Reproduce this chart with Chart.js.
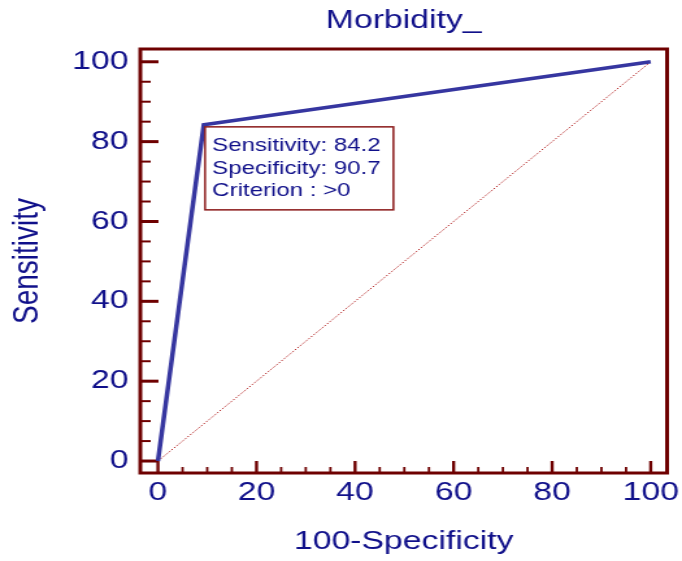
<!DOCTYPE html>
<html>
<head>
<meta charset="utf-8">
<title>Morbidity_ ROC curve</title>
<script src="https://cdn.jsdelivr.net/npm/chart.js@4.4.0/dist/chart.umd.min.js"></script>
<style>
  html, body { margin: 0; padding: 0; background: #ffffff; overflow: hidden; }
</style>
</head>
<body>
<!-- drawn at 525px wide and shown at 682px, the reference is stretched sideways -->
<canvas id="rocChart" width="525" height="561" style="display:block;width:682px;height:561px"></canvas>
<script>
// ROC data (100-Specificity vs Sensitivity)
const rocX = [0, 9.3, 100];
const rocY = [0, 84.2, 100];
const diagonalX = [0, 100];
const diagonalY = [0, 100];

// Axis ticks
const tickValues = [0, 20, 40, 60, 80, 100];
const minorTickValues = [0, 5, 10, 15, 20, 25, 30, 35, 40, 45, 50, 55, 60, 65, 70, 75, 80, 85, 90, 95, 100];

// Cut-off point shown in the box
const cutoffSensitivity = 84.2;
const cutoffSpecificity = 90.7;
const cutoffCriterion = ">0";

const textColor = "#10108a";
const frameColor = "#6e0000";

Chart.defaults.font.family = "'Liberation Sans', Arial, Helvetica, sans-serif";

function toPoints(xs, ys) {
  return xs.map((v, i) => ({ x: v, y: ys[i] }));
}

// Frame with inward tick marks
const frameAndTicks = {
  id: "frameAndTicks",
  beforeDatasetsDraw(chart) {
    const { ctx, chartArea: a, scales } = chart;
    ctx.save();
    ctx.strokeStyle = frameColor;
    ctx.lineCap = "butt";
    minorTickValues.forEach((v) => {
      const major = tickValues.includes(v);
      const px = scales.x.getPixelForValue(v);
      ctx.lineWidth = major ? 2.4 : 1.8;
      ctx.beginPath();
      ctx.moveTo(px, a.bottom);
      ctx.lineTo(px, a.bottom - (major ? 12 : 6));
      ctx.stroke();

      const py = scales.y.getPixelForValue(v);
      ctx.lineWidth = major ? 3 : 2;
      ctx.beginPath();
      ctx.moveTo(a.left, py);
      ctx.lineTo(a.left + (major ? 14 : 8), py);
      ctx.stroke();
    });
    ctx.lineWidth = 3;
    ctx.strokeRect(a.left, a.top, a.right - a.left, a.bottom - a.top);
    ctx.restore();
  },
};

// Box with the cut-off statistics
const cutoffBox = {
  id: "cutoffBox",
  afterDatasetsDraw(chart) {
    const { ctx, scales } = chart;
    const px = scales.x.getPixelForValue(100 - cutoffSpecificity);
    const py = scales.y.getPixelForValue(cutoffSensitivity);
    const bx = px + 1;
    const by = py + 2;
    ctx.save();
    ctx.fillStyle = "#ffffff";
    ctx.fillRect(bx, by, 145, 83);
    ctx.strokeStyle = "#8b1a1a";
    ctx.lineWidth = 1.5;
    ctx.strokeRect(bx, by, 145, 83);
    ctx.fillStyle = textColor;
    ctx.font = "18.5px 'Liberation Sans', Arial, sans-serif";
    ctx.textBaseline = "alphabetic";
    ctx.fillText("Sensitivity: " + cutoffSensitivity.toFixed(1), bx + 5.5, by + 24);
    ctx.fillText("Specificity: " + cutoffSpecificity.toFixed(1), bx + 5.5, by + 47);
    ctx.fillText("Criterion : " + cutoffCriterion, bx + 5.5, by + 69.5);
    ctx.restore();
  },
};

const ctx = document.getElementById("rocChart").getContext("2d");

new Chart(ctx, {
  type: "scatter",
  data: {
    datasets: [
      {
        label: "Reference line",
        data: toPoints(diagonalX, diagonalY),
        showLine: true,
        borderColor: "#b22222",
        borderWidth: 1,
        borderDash: [1.5, 1.5],
        pointRadius: 0,
        order: 2,
      },
      {
        label: "ROC curve",
        data: toPoints(rocX, rocY),
        showLine: true,
        borderColor: "#3636a0",
        borderWidth: 3.5,
        pointRadius: 0,
        tension: 0,
        order: 1,
      },
    ],
  },
  options: {
    responsive: false,
    devicePixelRatio: 1,
    animation: false,
    layout: {
      padding: { left: 0, right: 11.5, top: 0, bottom: 0 },
    },
    plugins: {
      legend: { display: false },
      tooltip: { enabled: false },
      title: {
        display: true,
        text: "Morbidity_",
        color: textColor,
        fullSize: false,
        font: { size: 26, weight: "normal" },
        padding: { top: 5.4, bottom: 12.4 },
      },
    },
    scales: {
      x: {
        type: "linear",
        min: -3.58,
        max: 103.32,
        grid: { display: false, drawTicks: false },
        border: { display: false },
        afterBuildTicks: (scale) => {
          scale.ticks = tickValues.map((v) => ({ value: v }));
        },
        afterFit: (scale) => {
          scale.height = 88;
          scale.paddingLeft = 0;
          scale.paddingRight = 0;
        },
        ticks: {
          color: textColor,
          font: { size: 26 },
          padding: 4,
          maxRotation: 0,
          autoSkip: false,
        },
        title: {
          display: true,
          text: "100-Specificity",
          color: textColor,
          font: { size: 26 },
          padding: { top: 0, bottom: 4 },
        },
      },
      y: {
        type: "linear",
        min: -3.0,
        max: 103.2,
        grid: { display: false, drawTicks: false },
        border: { display: false },
        afterBuildTicks: (scale) => {
          scale.ticks = tickValues.map((v) => ({ value: v }));
        },
        afterFit: (scale) => {
          scale.width = 108;
          scale.paddingTop = 0;
          scale.paddingBottom = 0;
        },
        ticks: {
          color: textColor,
          font: { size: 26 },
          padding: 9,
          autoSkip: false,
        },
        title: {
          display: true,
          text: "Sensitivity",
          color: textColor,
          font: { size: 28 },
          padding: { top: 4.7, bottom: 0 },
        },
      },
    },
  },
  plugins: [frameAndTicks, cutoffBox],
});
</script>
</body>
</html>
